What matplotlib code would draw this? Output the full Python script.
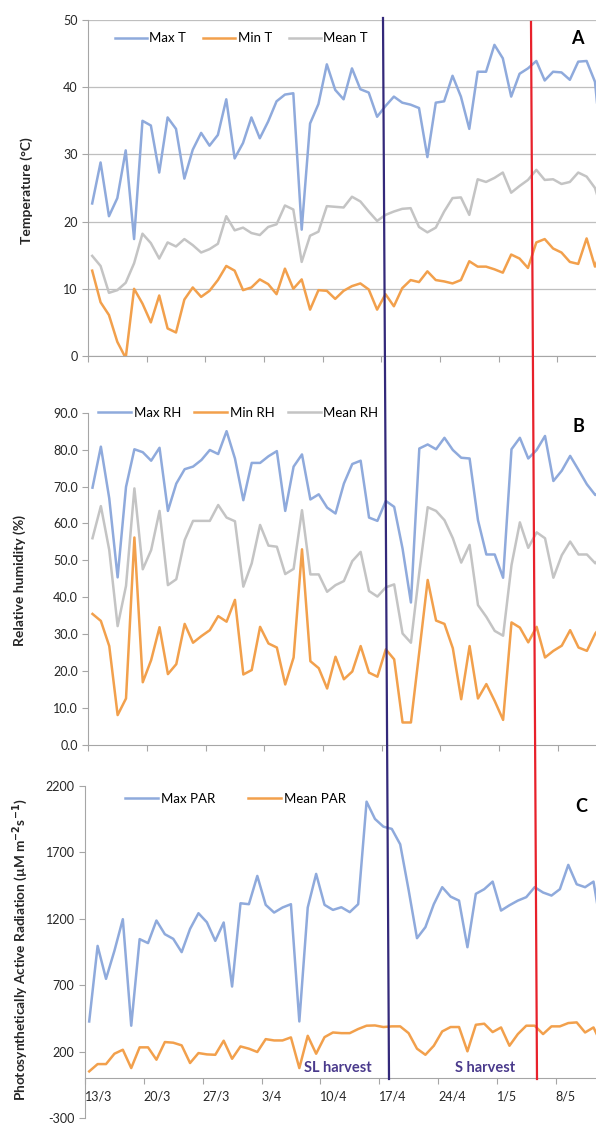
import numpy as np
import matplotlib
matplotlib.use('Agg')
import matplotlib.pyplot as plt
from matplotlib.lines import Line2D

plt.rcParams['font.family'] = ['Lato', 'DejaVu Sans']
plt.rcParams['axes.unicode_minus'] = False

# daily values, 13/3 to 13/5
max_t = [22.7, 28.8, 20.8, 23.5, 30.6, 17.4, 35.0, 34.3, 27.3, 35.5,
         33.8, 26.4, 30.7, 33.2, 31.3, 32.9, 38.2, 29.4, 31.7, 35.5,
         32.4, 34.9, 37.9, 38.9, 39.1, 18.8, 34.6, 37.5, 43.4, 39.6,
         38.2, 42.8, 39.7, 39.2, 35.6, 37.2, 38.6, 37.7, 37.4, 36.9,
         29.6, 37.7, 37.9, 41.7, 38.6, 33.8, 42.3, 42.3, 46.3, 44.3,
         38.6, 42.0, 42.8, 43.9, 41.0, 42.3, 42.2, 41.1, 43.8, 43.9,
         40.8, 28.0]
min_t = [12.7, 8.0, 6.1, 2.1, -0.3, 10.0, 7.8, 5.0, 9.0, 4.1,
         3.5, 8.4, 10.2, 8.8, 9.7, 11.3, 13.4, 12.7, 9.8, 10.2,
         11.4, 10.7, 9.2, 13.0, 10.0, 11.4, 6.9, 9.8, 9.7, 8.5,
         9.7, 10.4, 10.8, 9.9, 6.9, 9.2, 7.4, 10.1, 11.3, 11.0,
         12.6, 11.3, 11.1, 10.8, 11.3, 14.1, 13.3, 13.3, 12.9, 12.4,
         15.1, 14.5, 13.1, 16.9, 17.4, 16.0, 15.4, 14.0, 13.7, 17.5,
         13.3, 16.5]
mean_t = [14.9, 13.4, 9.4, 9.8, 10.9, 13.8, 18.2, 16.8, 14.5, 16.9,
          16.3, 17.4, 16.5, 15.4, 15.9, 16.7, 20.8, 18.7, 19.1, 18.3,
          18.0, 19.2, 19.6, 22.4, 21.8, 14.0, 17.9, 18.5, 22.3, 22.2,
          22.1, 23.7, 23.0, 21.5, 20.1, 21.0, 21.5, 21.9, 22.0, 19.2,
          18.4, 19.1, 21.5, 23.5, 23.6, 21.0, 26.3, 25.9, 26.5, 27.3,
          24.3, 25.3, 26.2, 27.7, 26.2, 26.3, 25.6, 25.9, 27.3, 26.7,
          25.0, 21.0]

max_rh = [69.7, 80.8, 66.8, 45.4, 69.9, 80.1, 79.3, 77.0, 80.5, 63.4,
          70.8, 74.7, 75.4, 77.2, 79.9, 78.8, 85.0, 77.6, 66.3, 76.4,
          76.4, 78.2, 79.6, 63.4, 75.4, 78.7, 66.5, 67.9, 64.3, 62.7,
          70.8, 76.1, 77.0, 61.6, 60.7, 66.1, 64.5, 53.2, 38.6, 80.3,
          81.4, 80.1, 83.2, 79.9, 77.8, 77.6, 60.9, 51.6, 51.6, 45.3,
          80.1, 83.2, 77.6, 79.9, 83.7, 71.5, 74.3, 78.3, 74.5, 70.6,
          67.7, 69.5]
min_rh = [35.5, 33.6, 26.8, 8.1, 12.6, 56.2, 17.0, 23.0, 31.9, 19.2,
          21.9, 32.8, 27.7, 29.5, 31.1, 34.9, 33.4, 39.3, 19.1, 20.3,
          32.0, 27.5, 26.4, 16.4, 23.7, 53.0, 22.7, 20.8, 15.3, 23.9,
          17.8, 19.9, 26.8, 19.6, 18.5, 25.9, 23.2, 6.1, 6.1, 25.3,
          44.7, 33.7, 32.8, 26.2, 12.4, 26.8, 12.6, 16.5, 11.9, 6.8,
          33.2, 31.8, 27.8, 32.0, 23.7, 25.5, 26.9, 31.1, 26.4, 25.5,
          30.2, 33.0]
mean_rh = [56.0, 64.7, 52.8, 32.2, 43.1, 69.5, 47.6, 52.8, 63.4, 43.3,
           44.9, 55.5, 60.7, 60.7, 60.7, 65.0, 61.6, 60.6, 42.9, 49.2,
           59.6, 54.0, 53.7, 46.3, 47.7, 63.6, 46.2, 46.2, 41.5, 43.3,
           44.4, 49.8, 52.3, 41.7, 40.2, 42.7, 43.5, 30.2, 27.7, 46.8,
           64.4, 63.4, 60.9, 56.0, 49.4, 54.2, 37.9, 34.7, 30.9, 29.6,
           48.7, 60.3, 53.4, 57.6, 56.0, 45.3, 51.4, 55.1, 51.6, 51.6,
           49.2, 52.0]

max_par = [427, 996, 748, 959, 1197, 395, 1047, 1017, 1187, 1084,
           1049, 949, 1124, 1242, 1174, 1034, 1172, 690, 1317, 1310,
           1523, 1305, 1247, 1285, 1310, 427, 1285, 1538, 1305, 1267,
           1287, 1250, 1310, 2082, 1952, 1894, 1877, 1761, 1418, 1054,
           1137, 1310, 1438, 1367, 1337, 986, 1388, 1423, 1480, 1262,
           1302, 1337, 1363, 1438, 1398, 1375, 1423, 1606, 1460, 1438,
           1480, 1100]
mean_par = [51, 106, 106, 184, 214, 76, 232, 232, 139, 272,
            267, 247, 114, 189, 179, 176, 282, 146, 239, 222,
            197, 294, 284, 284, 307, 76, 319, 184, 309, 344,
            339, 339, 370, 395, 397, 385, 390, 390, 339, 222,
            176, 244, 352, 385, 385, 202, 402, 410, 347, 382,
            244, 332, 395, 395, 332, 390, 390, 415, 420, 344,
            382, 250]

date_labels = ['13/3', '20/3', '27/3', '3/4', '10/4', '17/4', '24/4', '1/5', '8/5']

blue = '#8FAADC'
orange = '#F2A04C'
grey = '#C4C4C4'
axis_grey = '#A6A6A6'
text_col = '#262626'

n = len(max_t)
x = np.arange(n)

W, H = 596, 1125
fig = plt.figure(figsize=(W / 100, H / 100), dpi=100)

def px_axes(left, top, bottom, day_w):
    return fig.add_axes([left / W, 1 - bottom / H, n * day_w / W, (bottom - top) / H])

def style(ax, show_dates=False):
    ax.spines['top'].set_visible(False)
    ax.spines['right'].set_visible(False)
    ax.spines['left'].set_color(axis_grey)
    ax.spines['bottom'].set_color(axis_grey)
    ax.set_xlim(-0.5, n - 0.5)
    ax.set_xticks(np.arange(-0.5, n, 7))
    ax.tick_params(colors=axis_grey, labelcolor=text_col, labelsize=9,
                   length=4, width=0.8)
    if show_dates:
        ax.set_xticklabels(date_labels, ha='left')
        ax.tick_params(axis='x', pad=5)
    else:
        ax.tick_params(axis='x', labelbottom=False)

lw = 1.8

# A - temperature
ax1 = px_axes(88, 20, 356, 8.38)
ax1.plot(x, max_t, color=blue, lw=lw, label='Max T')
ax1.plot(x, min_t, color=orange, lw=lw, label='Min T')
ax1.plot(x, mean_t, color=grey, lw=lw, label='Mean T')
ax1.set_ylim(0, 50)
ax1.set_yticks(range(0, 51, 10))
ax1.yaxis.grid(True, color='#BFBFBF', lw=0.9)
ax1.set_axisbelow(True)
style(ax1)
ax1.legend(ncol=3, loc='center left', bbox_to_anchor=(0.052, 0.946), frameon=False,
           fontsize=9.5, handlelength=2.4, handletextpad=0.2, columnspacing=1.3,
           borderpad=0, borderaxespad=0)

# B - relative humidity
ax2 = px_axes(88.3, 412.7, 745, 8.38)
ax2.plot(x, max_rh, color=blue, lw=lw, label='Max RH')
ax2.plot(x, min_rh, color=orange, lw=lw, label='Min RH')
ax2.plot(x, mean_rh, color=grey, lw=lw, label='Mean RH')
ax2.set_ylim(0, 90)
ax2.set_yticks(range(0, 91, 10))
ax2.set_yticklabels(['%.1f' % v for v in range(0, 91, 10)])
style(ax2)
ax2.legend(ncol=3, loc='center left', bbox_to_anchor=(0.019, 1.0), frameon=False,
           fontsize=9.5, handlelength=2.5, handletextpad=0.2, columnspacing=1.0,
           borderpad=0, borderaxespad=0)

# C - PAR
ax3 = px_axes(85, 786, 1118, 8.405)
ax3.plot(x, max_par, color=blue, lw=lw, label='Max PAR')
ax3.plot(x, mean_par, color=orange, lw=lw, label='Mean PAR')
ax3.set_ylim(-300, 2200)
ax3.set_yticks(range(-300, 2201, 500))
ax3.spines['bottom'].set_position(('data', 0))
style(ax3, show_dates=True)
ax3.legend(ncol=2, loc='center left', bbox_to_anchor=(0.077, 0.961), frameon=False,
           fontsize=9.5, handlelength=2.5, handletextpad=0.2, columnspacing=2.5,
           borderpad=0, borderaxespad=0)

# y labels
fig.text(27 / W, 1 - 191 / H, 'Temperature (°C)', rotation=90, ha='center', va='center',
         fontsize=10, fontweight='bold', color=text_col)
fig.text(20 / W, 1 - 581 / H, 'Relative humidity (%)', rotation=90, ha='center', va='center',
         fontsize=10, fontweight='bold', color=text_col)
fig.text(20 / W, 1 - 950 / H,
         r'Photosynthetically Active Radiation (µM m$^{\mathbf{-2}}$s$^{\mathbf{-1}}$)',
         rotation=90, ha='center', va='center', fontsize=9.8, fontweight='bold', color=text_col)

# panel letters
for letter, px, py in [('A', 577, 38), ('B', 578, 427), ('C', 581, 806)]:
    fig.text(px / W, 1 - py / H, letter, ha='center', va='center',
             fontsize=13, fontweight='bold', color='black')

# harvest markers
fig.add_artist(Line2D([383 / W, 389 / W], [1 - 18 / H, 1 - 1079 / H],
                      color='#33297A', lw=1.6, transform=fig.transFigure))
fig.add_artist(Line2D([531 / W, 537 / W], [1 - 22 / H, 1 - 1079 / H],
                      color='#E8212B', lw=1.6, transform=fig.transFigure))
fig.text(338 / W, 1 - 1068 / H, 'SL harvest', ha='center', va='center',
         fontsize=10.5, fontweight='bold', color='#4A3A8C')
fig.text(485 / W, 1 - 1068 / H, 'S harvest', ha='center', va='center',
         fontsize=10.5, fontweight='bold', color='#4A3A8C')

plt.savefig('out.png', dpi=100)
